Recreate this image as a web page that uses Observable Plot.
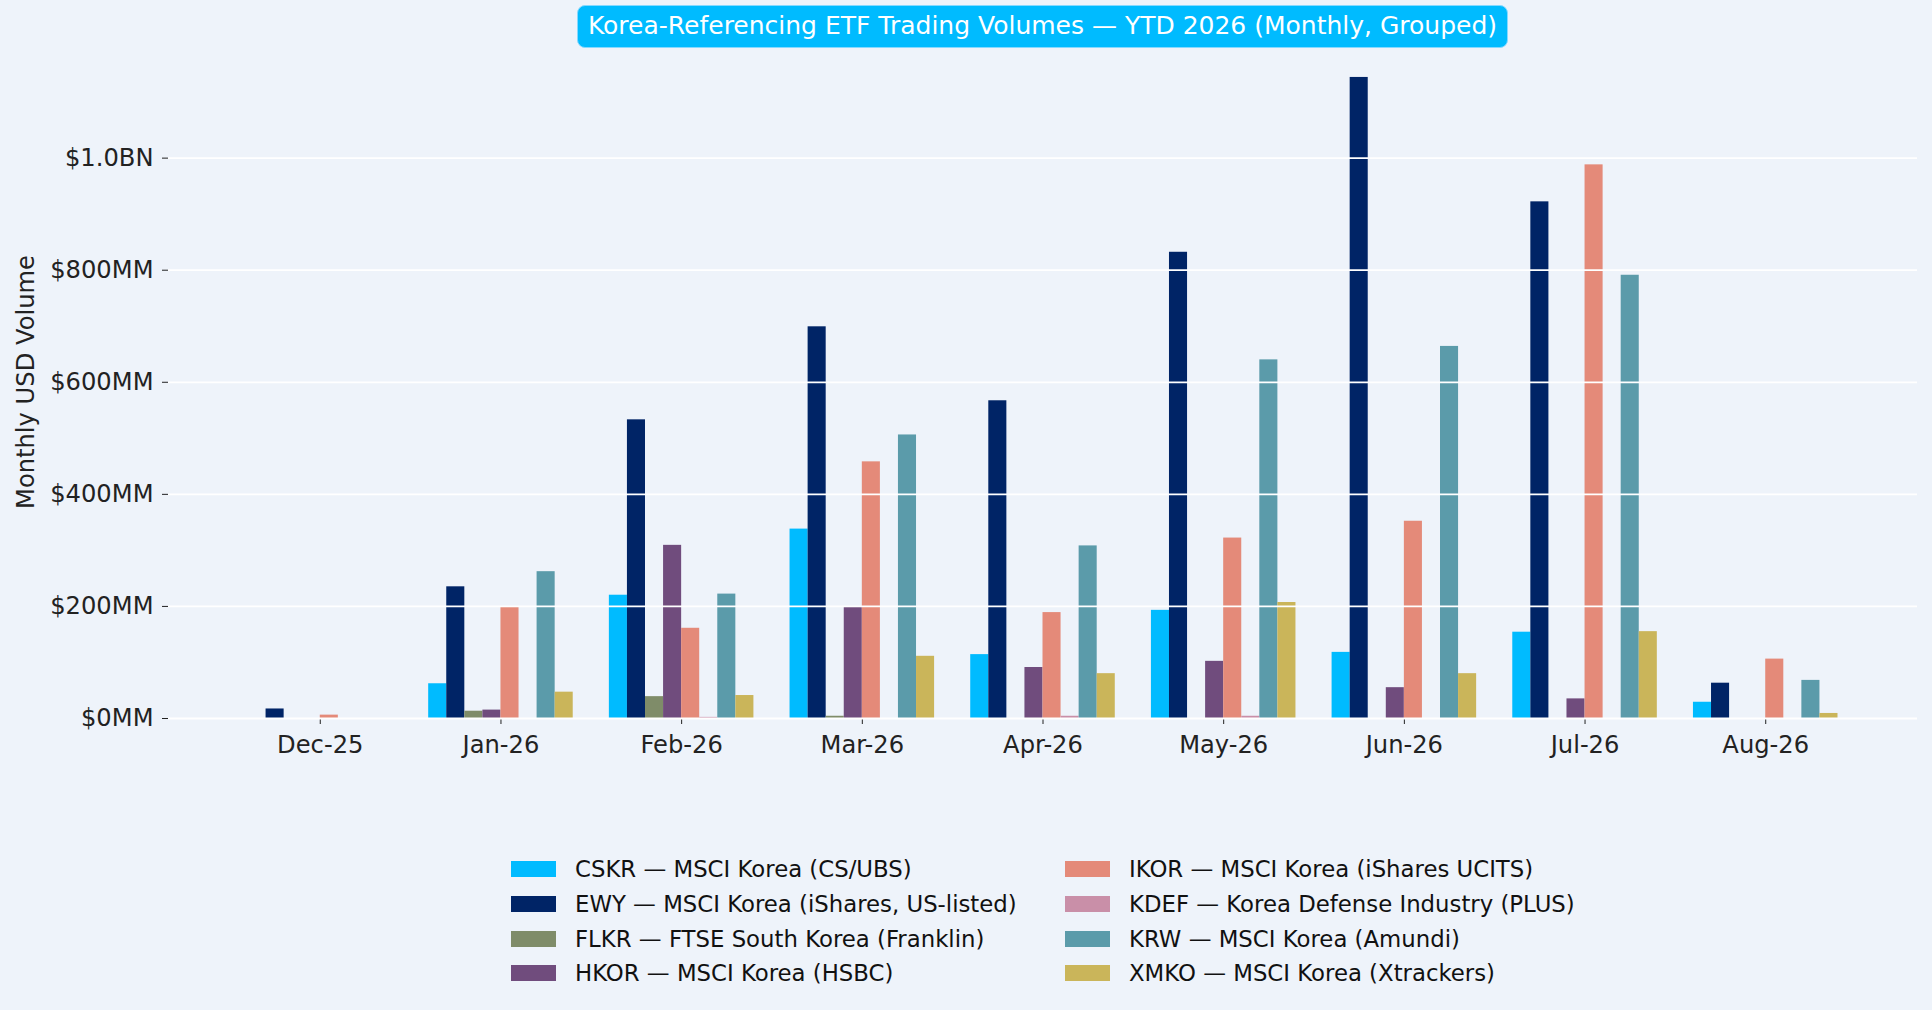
<!DOCTYPE html>
<html>
<head>
<meta charset="utf-8">
<script src="https://cdn.jsdelivr.net/npm/d3@7"></script>
<script src="https://cdn.jsdelivr.net/npm/@observablehq/plot@0.6"></script>
<style>
  html, body { margin: 0; padding: 0; background: #eef3fa; }
  #page { position: relative; width: 1932px; height: 1010px; background: #eef3fa; font-family: "DejaVu Sans", sans-serif; overflow: hidden; }
  #chart { position: absolute; left: 0; top: 0; }
  #title { position: absolute; left: 577px; top: 5px; width: 931px; height: 43px; box-sizing: border-box;
           background: #00bbff; border: 1.5px solid #86d9ff; border-radius: 8px; color: #fff;
           font-size: 25px; line-height: 40px; text-align: center; white-space: nowrap; }
  #legend { position: absolute; left: 511px; top: 852px; display: grid; grid-auto-flow: column;
            grid-template-columns: 554px auto; grid-template-rows: repeat(4, 34.7px); font-size: 22.8px; color: #111; }
  .item { display: flex; align-items: center; white-space: nowrap; }
  .sw { width: 45px; height: 16px; margin-right: 19px; flex: none; }
</style>
</head>
<body>
<div id="page">
  <div id="chart"></div>
  <div id="title">Korea-Referencing ETF Trading Volumes — YTD 2026 (Monthly, Grouped)</div>
  <div id="legend"></div>
</div>
<script>
const months = ["Dec-25", "Jan-26", "Feb-26", "Mar-26", "Apr-26", "May-26", "Jun-26", "Jul-26", "Aug-26"];
const tickers = ["CSKR", "EWY", "FLKR", "HKOR", "IKOR", "KDEF", "KRW", "XMKO"];
const names = [
  "CSKR — MSCI Korea (CS/UBS)",
  "EWY — MSCI Korea (iShares, US-listed)",
  "FLKR — FTSE South Korea (Franklin)",
  "HKOR — MSCI Korea (HSBC)",
  "IKOR — MSCI Korea (iShares UCITS)",
  "KDEF — Korea Defense Industry (PLUS)",
  "KRW — MSCI Korea (Amundi)",
  "XMKO — MSCI Korea (Xtrackers)"
];
const colors = ["#00bbff", "#002466", "#7f8c69", "#704c7d", "#e48a79", "#c98fa8", "#5b9baa", "#cab55a"];

// Monthly USD volume, $MM
const cskr = [0, 62, 220, 338, 114, 193, 118, 154, 29];
const ewy  = [17, 235, 533, 699, 567, 832, 1144, 922, 63];
const flkr = [0, 13, 39, 4, 0, 0, 0, 0, 0];
const hkor = [0, 15, 309, 198, 91, 102, 55, 35, 0];
const ikor = [6, 198, 161, 458, 189, 322, 352, 988, 106];
const kdef = [0, 0, 2, 0, 4, 4, 0, 0, 0];
const krw  = [0, 262, 222, 506, 308, 640, 664, 791, 68];
const xmko = [0, 47, 41, 111, 80, 207, 80, 155, 9];
const series = [cskr, ewy, flkr, hkor, ikor, kdef, krw, xmko];

const yTicks = [0, 200, 400, 600, 800, 1000];
const fmtY = v => v >= 1000 ? `$${(v / 1000).toFixed(1)}BN` : `$${v}MM`;

const groupWidth = 0.8;
const barW = groupWidth / tickers.length;
const rows = months.flatMap((m, mi) => tickers.map((t, si) => ({
  month: m, mi, ticker: t, si, value: series[si][mi]
}))).filter(d => d.value > 0);

const chart = Plot.plot({
  width: 1932,
  height: 770,
  marginLeft: 168,
  marginRight: 15,
  marginTop: 45,
  marginBottom: 52,
  style: {background: "transparent", fontFamily: "DejaVu Sans", fontSize: "24.2px", color: "#222", overflow: "visible"},
  x: {
    type: "linear",
    domain: [-0.4 - 0.44, months.length - 1 + 0.4 + 0.44],
    ticks: months.map((_, i) => i),
    tickFormat: i => months[i],
    tickSize: 6,
    tickPadding: 11,
    label: null
  },
  y: {
    domain: [0, 1201],
    ticks: yTicks,
    tickFormat: fmtY,
    tickSize: 6,
    tickPadding: 9,
    label: "Monthly USD Volume",
    labelArrow: false,
    labelAnchor: "center",
    labelOffset: 152
  },
  color: {domain: tickers, range: colors},
  marks: [
    Plot.rectY(rows, {
      x1: d => d.mi - groupWidth / 2 + barW * d.si,
      x2: d => d.mi - groupWidth / 2 + barW * (d.si + 1),
      y1: 0,
      y2: "value",
      fill: "ticker"
    }),
    Plot.ruleY(yTicks, {stroke: "white", strokeWidth: 1.8})
  ]
});
document.getElementById("chart").appendChild(chart);

const legend = document.getElementById("legend");
tickers.forEach((t, i) => {
  const item = document.createElement("div");
  item.className = "item";
  const sw = document.createElement("span");
  sw.className = "sw";
  sw.style.background = colors[i];
  const lab = document.createElement("span");
  lab.textContent = names[i];
  item.appendChild(sw);
  item.appendChild(lab);
  legend.appendChild(item);
});
</script>
</body>
</html>
